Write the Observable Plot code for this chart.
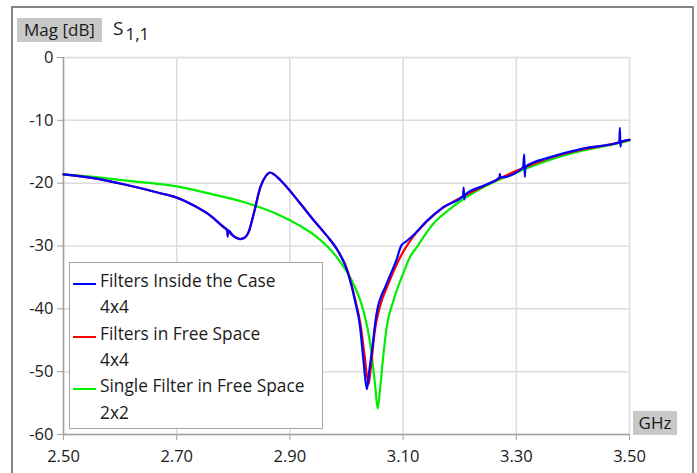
<!DOCTYPE html>
<html>
<head>
<meta charset="utf-8">
<script src="https://cdn.jsdelivr.net/npm/d3@7"></script>
<script src="https://cdn.jsdelivr.net/npm/@observablehq/plot@0.6"></script>
<style>
  body { margin: 0; background: #fff; }
  #wrap { position: relative; width: 697px; height: 473px; overflow: hidden; font-family: "Open Sans", sans-serif; color: #1a1a1a; }
  #frame { position: absolute; left: 11px; top: 6px; width: 679px; height: 480px; border: 2px solid #858585; }
  #chart { position: absolute; left: 0; top: 0; }
  .tag { position: absolute; background: #c8c8c8; font-size: 17px; line-height: 24px; text-align: center; }
  #legend { position: absolute; left: 69px; top: 262px; width: 252px; height: 165px; border: 1px solid #a6a6a6; background: #fff; }
  .lrow { position: absolute; left: 30px; font-size: 17.3px; line-height: 20px; white-space: nowrap; }
  .lline { position: absolute; left: 3px; width: 23px; height: 2px; }
</style>
</head>
<body>
<div id="wrap">
  <div id="frame"></div>
  <div id="chart"></div>
  <div class="tag" style="left:17px;top:18px;width:85px;height:24px;">Mag [dB]</div>
  <div style="position:absolute;left:113px;top:15px;font-size:19px;line-height:26px;">S<span style="font-size:17px;position:relative;top:5px;margin-left:2px;">1,1</span></div>
  <div class="tag" style="left:633px;top:411px;width:44px;height:24px;">GHz</div>
  <div id="legend"></div>
</div>
<script>
const seriesNames = ["Filters Inside the Case", "Filters in Free Space", "Single Filter in Free Space"];
const seriesSub = ["4x4", "4x4", "2x2"];
const seriesColors = ["#0000ff", "#ff0000", "#00ee00"];

const xTicks = [2.5, 2.7, 2.9, 3.1, 3.3, 3.5];
const yTicks = [0, -10, -20, -30, -40, -50, -60];

// Filters Inside the Case (blue)
const blueF = [2.500, 2.553, 2.612, 2.671, 2.700, 2.731, 2.760, 2.783, 2.789, 2.790, 2.791, 2.800, 2.812, 2.820, 2.827, 2.836, 2.848, 2.858, 2.865, 2.872, 2.883, 2.918, 2.942, 2.960, 2.971, 2.983, 3.001, 3.015, 3.024, 3.030, 3.036, 3.040, 3.045, 3.053, 3.071, 3.088, 3.097, 3.105, 3.118, 3.142, 3.171, 3.206, 3.207, 3.208, 3.209, 3.242, 3.270, 3.271, 3.272, 3.312, 3.314, 3.315, 3.316, 3.359, 3.418, 3.482, 3.483, 3.484, 3.485, 3.500];
const blueDb = [-18.6, -19.2, -20.3, -21.6, -22.3, -23.6, -25.2, -27.0, -27.4, -28.5, -27.5, -28.4, -28.9, -28.7, -27.8, -24.9, -20.6, -18.8, -18.3, -18.6, -19.5, -23.2, -25.9, -27.8, -29.0, -30.5, -33.9, -38.7, -42.9, -48.2, -52.8, -50.0, -46.7, -40.8, -36.0, -32.3, -29.9, -29.3, -28.3, -26.0, -23.8, -22.0, -20.7, -22.6, -21.9, -20.4, -19.1, -18.5, -19.1, -17.5, -15.4, -19.0, -17.4, -15.9, -14.5, -13.5, -11.2, -14.2, -13.4, -13.1];

// Filters in Free Space (red)
const redF = [2.500, 2.553, 2.612, 2.671, 2.700, 2.731, 2.760, 2.783, 2.800, 2.812, 2.820, 2.827, 2.836, 2.848, 2.858, 2.865, 2.872, 2.883, 2.918, 2.942, 2.960, 2.971, 2.983, 3.001, 3.015, 3.025, 3.032, 3.039, 3.044, 3.050, 3.058, 3.075, 3.092, 3.103, 3.118, 3.142, 3.171, 3.206, 3.242, 3.271, 3.312, 3.359, 3.418, 3.483, 3.500];
const redDb = [-18.6, -19.2, -20.3, -21.6, -22.3, -23.6, -25.2, -27.0, -28.4, -28.9, -28.7, -27.8, -24.9, -20.6, -18.8, -18.3, -18.6, -19.5, -23.2, -25.9, -27.8, -29.0, -30.5, -33.7, -38.4, -42.6, -47.5, -52.0, -48.5, -43.5, -40.0, -35.8, -32.3, -30.5, -28.5, -26.1, -23.9, -22.1, -20.5, -19.2, -17.6, -16.0, -14.6, -13.5, -13.1];

// Single Filter in Free Space (green)
const greenF = [2.500, 2.553, 2.612, 2.700, 2.760, 2.818, 2.877, 2.918, 2.942, 2.983, 3.012, 3.030, 3.042, 3.051, 3.055, 3.059, 3.065, 3.071, 3.083, 3.100, 3.112, 3.124, 3.153, 3.183, 3.212, 3.247, 3.300, 3.359, 3.418, 3.483, 3.500];
const greenDb = [-18.6, -19.0, -19.6, -20.5, -21.7, -23.0, -24.9, -26.8, -28.2, -31.8, -36.0, -40.3, -45.6, -52.5, -55.9, -53.0, -47.5, -42.9, -38.7, -34.4, -31.8, -30.2, -26.5, -24.1, -22.2, -20.4, -18.3, -16.3, -14.8, -13.6, -13.2];

const toRows = (f, v) => f.map((x, i) => ({x, y: v[i]}));
const blue = toRows(blueF, blueDb);
const red = toRows(redF, redDb);
const green = toRows(greenF, greenDb);

const chart = Plot.plot({
  width: 697,
  height: 473,
  marginLeft: 63,
  marginRight: 68,
  marginTop: 57,
  marginBottom: 39,
  style: { fontFamily: "Open Sans, sans-serif", fontSize: "16.5px", background: "transparent", color: "#1a1a1a" },
  x: { domain: [2.5, 3.5], label: null },
  y: { domain: [-60, 0], label: null },
  marks: [
    Plot.gridX(xTicks, { stroke: "#dcdcdc", strokeOpacity: 1, strokeWidth: 1.5 }),
    Plot.gridY(yTicks, { stroke: "#dcdcdc", strokeOpacity: 1, strokeWidth: 1.5 }),
    Plot.ruleX([2.5], { stroke: "#a0a0a0", strokeWidth: 1.5 }),
    Plot.ruleY([-60], { stroke: "#a0a0a0", strokeWidth: 1.5 }),
    Plot.axisX(xTicks, { tickFormat: d3.format(".2f"), tickSize: 6, tickPadding: 10, fontSize: 16.5, stroke: "#a0a0a0", fill: "#1a1a1a" }),
    Plot.axisY(yTicks, { tickFormat: d => d, tickSize: 6, tickPadding: 4, fontSize: 16.5, stroke: "#a0a0a0", fill: "#1a1a1a" }),
    Plot.line(green, { x: "x", y: "y", stroke: seriesColors[2], strokeWidth: 2.2, curve: "monotone-x" }),
    Plot.line(red, { x: "x", y: "y", stroke: seriesColors[1], strokeWidth: 2.2, curve: "monotone-x" }),
    Plot.line(blue, { x: "x", y: "y", stroke: seriesColors[0], strokeWidth: 2.2, curve: "monotone-x" })
  ]
});
document.getElementById("chart").appendChild(chart);

// legend
const legend = document.getElementById("legend");
const rowH = 26.3;
seriesNames.forEach((name, i) => {
  const c1 = 18 + (2 * i) * rowH;   // center of name row, relative to legend top
  const c2 = c1 + rowH;
  const t1 = document.createElement("div");
  t1.className = "lrow"; t1.style.top = (c1 - 10) + "px"; t1.textContent = name;
  const t2 = document.createElement("div");
  t2.className = "lrow"; t2.style.top = (c2 - 10) + "px"; t2.textContent = seriesSub[i];
  const ln = document.createElement("div");
  ln.className = "lline"; ln.style.top = (c1 + 2) + "px"; ln.style.background = seriesColors[i];
  legend.appendChild(t1); legend.appendChild(t2); legend.appendChild(ln);
});
</script>
</body>
</html>
